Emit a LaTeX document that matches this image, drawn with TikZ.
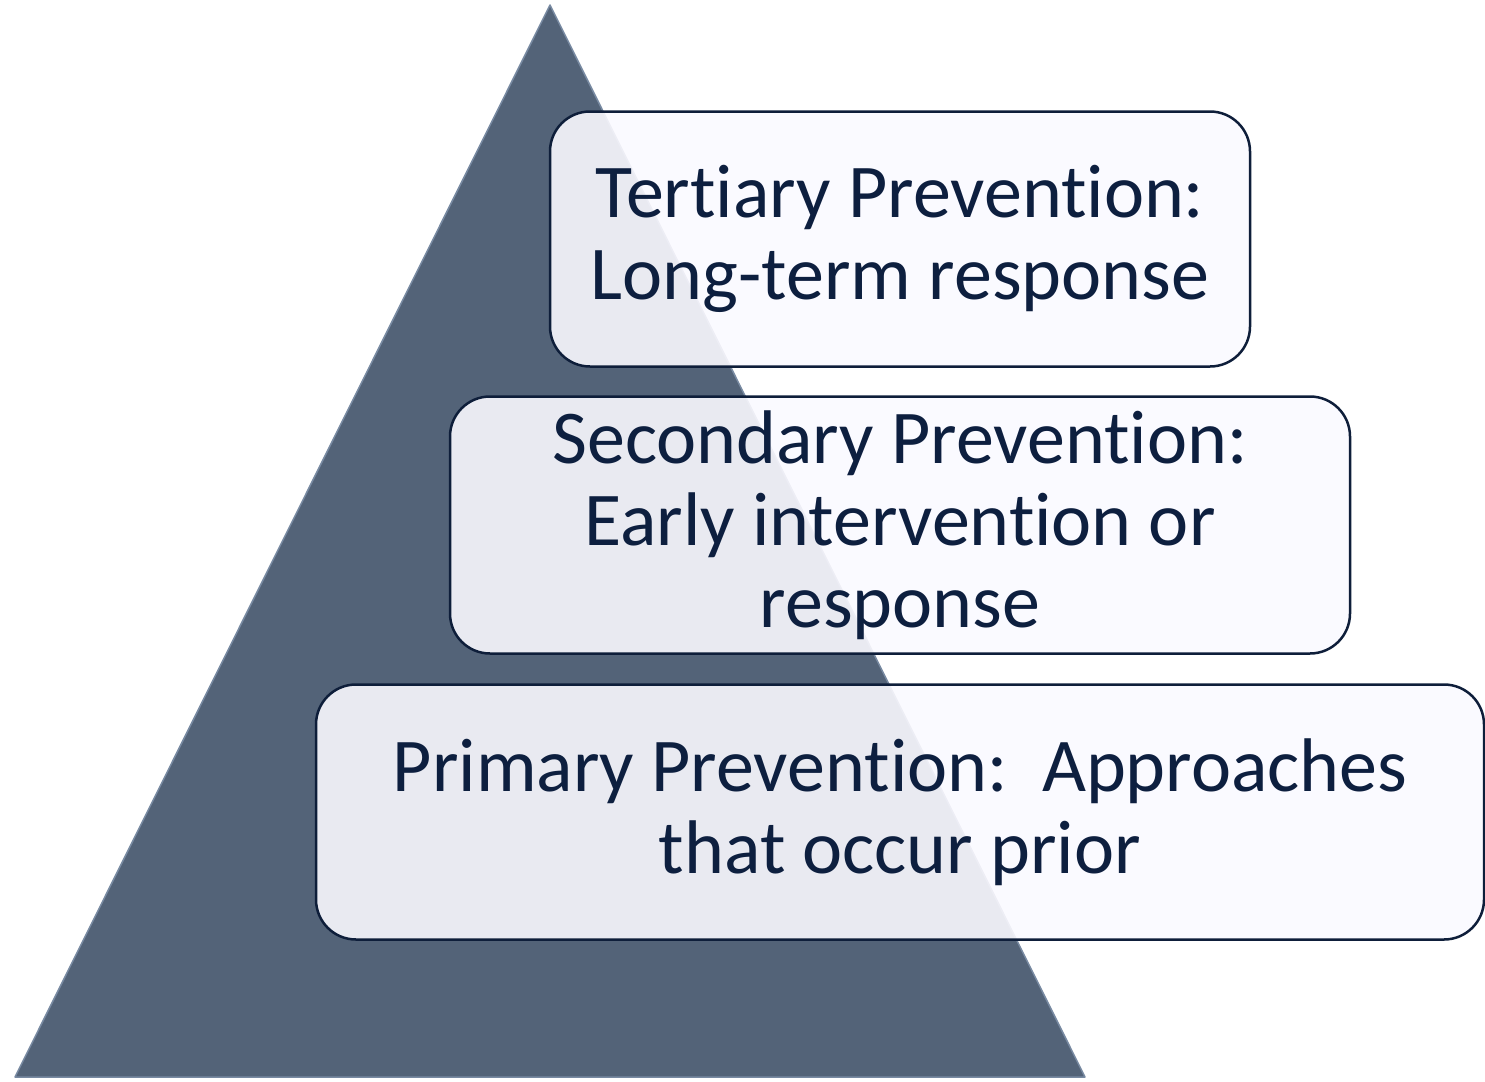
\documentclass[tikz,border=0pt]{standalone}
\usepackage{fontspec}
\setmainfont{Carlito}[Ligatures=NoCommon]
\usetikzlibrary{shapes.geometric,positioning}
\definecolor{pyramidfill}{RGB}{83,99,120}
\definecolor{pyramidedge}{RGB}{120,138,162}
\definecolor{boxfill}{RGB}{250,249,255}
\definecolor{boxline}{RGB}{14,30,58}
\definecolor{boxtext}{RGB}{13,31,63}
\tikzset
{
    pyramid/.style = {fill=pyramidfill, draw=pyramidedge, line width=1.5pt, line join=round},
    prevbox/.style = {rectangle, rounded corners=40pt, draw=boxline, line width=2.5pt, fill=boxfill, fill opacity=0.9, text opacity=1, text=boxtext, align=center, font=\fontsize{76}{82}\selectfont\frenchspacing, inner sep=0pt}
}

\begin{document}
\begin{tikzpicture}[x=1pt, y=-1pt]
   \useasboundingbox (0, 0) rectangle (1485, 1081);

   \coordinate (apex)  at (550, 5);
   \coordinate (baseL) at (15, 1077);
   \coordinate (baseR) at (1085, 1077);
   \draw[pyramid] (apex) -- (baseR) -- (baseL) -- cycle;

   \node (tertiary)  [prevbox, minimum width=700pt,  minimum height=255pt] at (900, 239) {Tertiary Prevention:\\Long-term response};
   \node (secondary) [prevbox, minimum width=900pt,  minimum height=257pt] at (900, 525) {Secondary Prevention:\\Early intervention or\\response};
   \node (primary)   [prevbox, minimum width=1168pt, minimum height=255pt] at (900, 812) {Primary Prevention:~ Approaches\\that occur prior};
\end{tikzpicture}
\end{document}
